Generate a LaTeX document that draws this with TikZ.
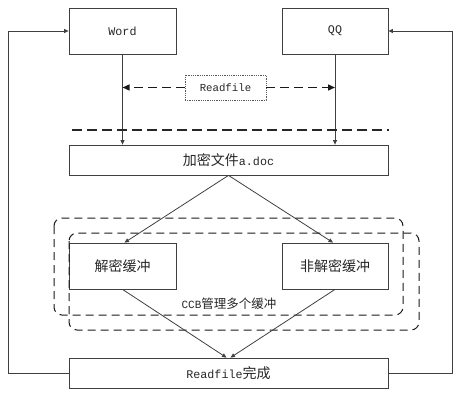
\documentclass[tikz,border=0pt]{standalone}
\usepackage{fontspec}
\setmonofont{Liberation Mono}
\newfontfamily\cjk{Noto Sans CJK SC}
\usetikzlibrary{arrows.meta}
\newcommand{\zh}[1]{{\cjk #1}}
\begin{document}
\begin{tikzpicture}[x=1pt,y=-1pt,
  ln/.style={draw=black!75, line width=0.8pt},
  tip/.style={-{Triangle[length=4.5pt,width=4pt]}},
  bigtip/.style={-{Triangle[length=7pt,width=6pt]}},
  box/.style={ln, rectangle, inner sep=0pt, font=\fontsize{11.7}{13}\ttfamily, text=black!85},
  dsh/.style={draw=black!90, line width=1pt, dash pattern=on 8pt off 5pt},
]
\useasboundingbox (0,0) rectangle (471,404);
\node[box, minimum width=107pt, minimum height=46pt] (word) at (122.5,31) {Word};
\node[box, minimum width=106pt, minimum height=46pt] (qq) at (335,31) {QQ};
\node[box, draw=black!65, densely dotted, minimum width=81pt, minimum height=25pt, font=\fontsize{10.7}{12}\ttfamily] (rf) at (225.5,87.5) {Readfile};
\node[box, minimum width=319pt, minimum height=30pt] (enc) at (228.5,160) {\fontsize{14}{16}\zh{加密文件}\fontsize{11.7}{13}\selectfont a.doc};
\node[box, minimum width=107pt, minimum height=46pt] (dec) at (122.5,266) {\fontsize{14}{16}\zh{解密缓冲}};
\node[box, minimum width=106pt, minimum height=46pt] (ndec) at (335,266) {\fontsize{14}{16}\zh{非解密缓冲}};
\node[box, minimum width=319pt, minimum height=30pt] (done) at (228.5,373) {Readfile\fontsize{14}{16}\zh{完成}};
\node[font=\fontsize{11}{12}\ttfamily, text=black!85, inner sep=0pt] (ccb) at (229,304) {CCB\fontsize{12.5}{14}\zh{管理多个缓冲}};
\coordinate (lx) at (8,0);
\coordinate (rx) at (452,0);
\coordinate (dl1) at (72,130);
\coordinate (dl2) at (389,130);
% vertical arrows
\draw[ln,tip] (word.south) -- (word.south |- enc.north);
\draw[ln,tip] (qq.south) -- (qq.south |- enc.north);
% readfile dashed arrows
\draw[draw=black!90, line width=1.3pt, dash pattern=on 9pt off 5pt, bigtip] (rf.west) -- (rf.west -| word.south);
\draw[draw=black!90, line width=1.3pt, dash pattern=on 9pt off 5pt, bigtip] (rf.east) -- (rf.east -| qq.south);
% thick dashed line
\draw[draw=black!85, line width=1.5pt, dash pattern=on 10pt off 5pt] (dl1) -- (dl2);
% split
\draw[ln,tip] (enc.south) -- ([xshift=2pt]dec.north);
\draw[ln,tip] (enc.south) -- ([xshift=-2pt]ndec.north);
% dashed rounded regions
\draw[dsh, rounded corners=8pt] (54,218) rectangle (403,315);
\draw[dsh, rounded corners=8pt] (69,233) rectangle (419,330);
% merge
\draw[ln,tip] (dec.south) -- ([xshift=-2pt]done.north);
\draw[ln,tip] (ndec.south) -- ([xshift=2pt]done.north);
% loops
\draw[ln,tip] (done.west) -- (done.west -| lx) |- (word.west);
\draw[ln,tip] (done.east) -- (done.east -| rx) |- (qq.east);
\end{tikzpicture}
\end{document}
